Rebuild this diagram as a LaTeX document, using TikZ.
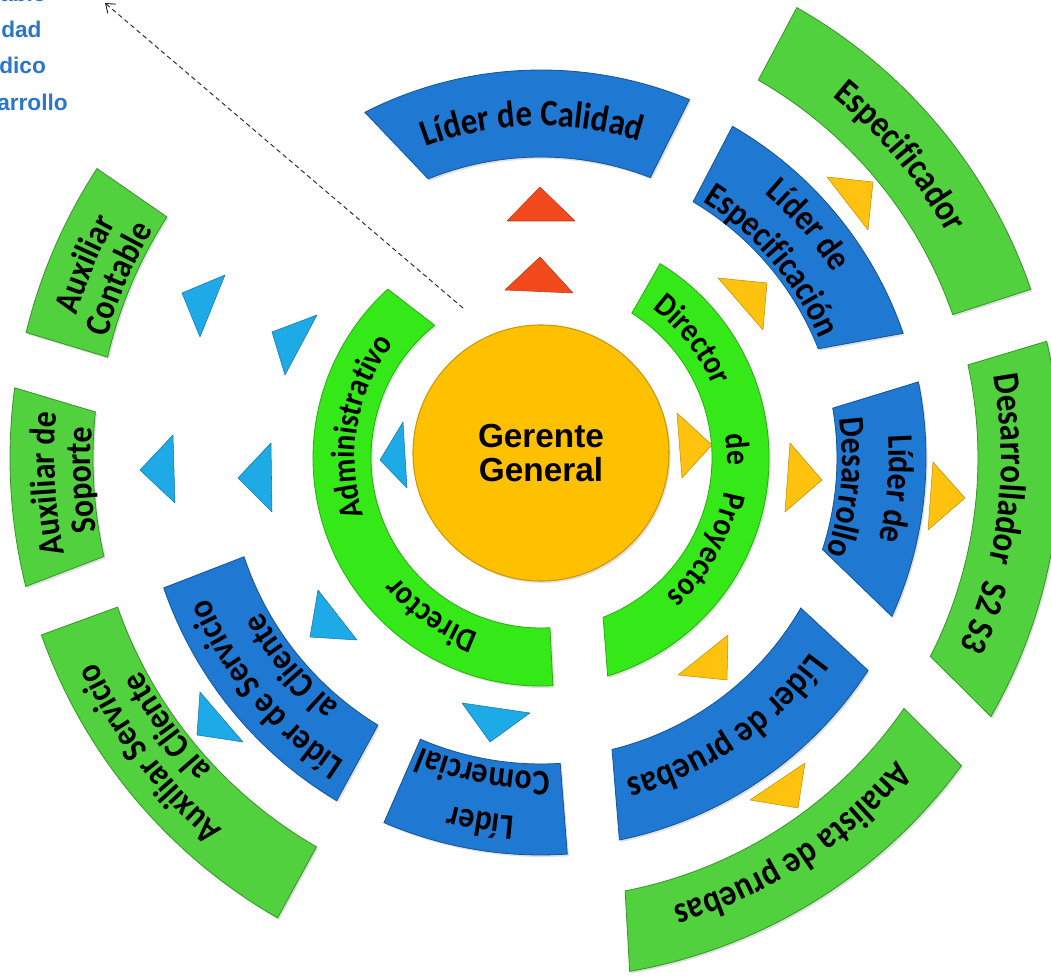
\documentclass[tikz,border=0pt]{standalone}
\usepackage{fontspec}
\setmainfont{Carlito}
\newfontfamily\lblfont{Carlito}[FakeStretch=0.88]
\newfontfamily\gerfont{Liberation Sans}
\usetikzlibrary{decorations.text,shadows,arrows.meta}
\definecolor{gold}{HTML}{FFC000}
\definecolor{limeg}{HTML}{35E817}
\definecolor{grn}{HTML}{52D13E}
\definecolor{blu}{HTML}{1F78D1}
\definecolor{cyanb}{HTML}{1EAAE6}
\definecolor{redt}{HTML}{F24A1C}
\definecolor{ylw}{HTML}{FFC20E}
\definecolor{txtblue}{HTML}{2B77C6}
% #1 outer start, #2 outer end, #3 inner start, #4 inner end, #5 r in, #6 r out, #7 style
\newcommand\seg[7]{\path[#7] (#1:#6) arc[start angle=#1, end angle=#2, radius=#6] -- (#4:#5) arc[start angle=#4, end angle=#3, radius=#5] -- cycle;}
% #1 centre angle, #2 baseline radius, #3 font size, #4 text
\newcommand\arclbl[4]{\path[decorate,decoration={text along path, text align=center, text={|\lblfont\bfseries\fontsize{#3}{#3}\selectfont|#4}}] ({#1+70}:#2) arc[start angle={#1+70}, end angle={#1-70}, radius=#2];}
\begin{document}
\begin{tikzpicture}[x=0.75pt,y=0.75pt,
  segbase/.style={line width=0.6pt, drop shadow={opacity=0.25, shadow xshift=1.2pt, shadow yshift=-1.5pt}},
  bluseg/.style={segbase, fill=blu, draw=blu!70!black},
  grnseg/.style={segbase, fill=grn, draw=grn!70!black},
  limeseg/.style={segbase, fill=limeg, draw=limeg!75!black},
  tri/.style={line width=0.4pt, line join=round},
  cyantri/.style={tri, fill=cyanb, draw=cyanb!70!black},
  redtri/.style={tri, fill=redt, draw=redt!75!black},
  ylwtri/.style={tri, fill=ylw, draw=ylw!75!black},
  note/.style={anchor=base west, inner sep=0pt, text=txtblue, font=\gerfont\bfseries\fontsize{17}{17}\selectfont}]
\useasboundingbox (-541,-522) rectangle (510,458);
\fill[white] (-541,-522) rectangle (510,458);

% inner director ring
\seg{273}{132.2}{273}{128.7}{170}{228}{limeseg}
\seg{58.5}{-73}{57.9}{-68.7}{171}{228}{limeseg}

% middle blue ring
\seg{117}{67.5}{112}{68.7}{301}{388}{bluseg}
\seg{60}{19}{59.3}{21.5}{298}{383}{bluseg}
\seg{11.4}{-24.3}{9.7}{-18}{296}{385}{bluseg}
\seg{-33}{-78.4}{-30}{-76.3}{300}{390}{bluseg}
\seg{273.8}{246.7}{273.6}{246.8}{306}{397}{bluseg}
\seg{239.2}{199}{238.6}{198.4}{313}{399}{bluseg}

% outer green ring
\seg{60.4}{19}{60.1}{19.2}{436}{518}{grnseg}
\seg{13}{-29.9}{12.3}{-27}{437}{519}{grnseg}
\seg{-36.2}{-80.2}{-34.6}{-79}{441}{521}{grnseg}
\seg{240.2}{199.5}{240}{199.4}{449}{530}{grnseg}
\seg{194}{172.4}{192.7}{174.1}{448}{531}{grnseg}
\seg{166.3}{146.9}{166.9}{147.2}{445}{530}{grnseg}

% labels, director ring
\arclbl{235}{186}{25}{Director}
\arclbl{170}{186}{25}{Administrativo}
\arclbl{38}{186}{25}{Director}
\arclbl{2.6}{186}{25}{de}
\arclbl{-29}{186}{25}{Proyectos}

% labels, blue ring
\arclbl{91.5}{332}{28}{Líder de Calidad}
\arclbl{41}{346}{27}{Líder de}
\arclbl{40.5}{303}{27}{Especificación}
\arclbl{-5}{348}{27}{Líder de}
\arclbl{-5.5}{301}{27}{Desarrollo}
\arclbl{-55.5}{332}{28}{Líder de pruebas}
\arclbl{260.5}{359}{27}{Líder}
\arclbl{259.5}{313}{27}{Comercial}
\arclbl{220}{361}{27}{Líder de Servicio}
\arclbl{219.8}{319}{27}{al Cliente}

% labels, green ring
\arclbl{40}{464}{28}{Especificador}
\arclbl{-7}{460}{28}{Desarrollador{\hspace{0.5em}}S2 S3}
\arclbl{-57}{467}{28}{Analista de pruebas}
\arclbl{217}{489}{27}{Auxiliar Servicio}
\arclbl{215.7}{453}{27}{al Cliente}
\arclbl{183}{486}{27}{Auxiliar de}
\arclbl{182.7}{450}{27}{Soporte}
\arclbl{157}{486}{27}{Auxiliar}
\arclbl{157}{450}{27}{Contable}

% triangles, blue (left)
\path[cyantri] (-138,36) -- (-161,-2) -- (-134,-30) -- cycle;
\path[cyantri] (-270,15) -- (-303,-20) -- (-269,-54) -- cycle;
\path[cyantri] (-368,23) -- (-401,-12) -- (-366,-45) -- cycle;
\path[cyantri] (-269,126) -- (-224,143) -- (-256,83) -- cycle;
\path[cyantri] (-359,165) -- (-316,183) -- (-341,121) -- cycle;
\path[cyantri] (-223,-132) -- (-184,-182) -- (-231,-179) -- cycle;
\path[cyantri] (-341,-234) -- (-344,-277) -- (-298,-284) -- cycle;
\path[cyantri] (-79,-245) -- (-11,-255) -- (-51,-284) -- cycle;
% triangles, red (top)
\path[redtri] (-1,271) -- (-34,237) -- (34,237) -- cycle;
\path[redtri] (-1,201) -- (-36,168) -- (32,165) -- cycle;
% triangles, yellow (right)
\path[ylwtri] (136,45) -- (171,13) -- (141,-20) -- cycle;
\path[ylwtri] (249,15) -- (281,-22) -- (244,-54) -- cycle;
\path[ylwtri] (392,-4) -- (424,-40) -- (387,-72) -- cycle;
\path[ylwtri] (177,180) -- (226,175) -- (222,128) -- cycle;
\path[ylwtri] (286,281) -- (332,276) -- (327,228) -- cycle;
\path[ylwtri] (187,-177) -- (186,-222) -- (137,-217) -- cycle;
\path[ylwtri] (264,-305) -- (257,-350) -- (209,-342) -- cycle;

% centre
\node[circle, fill=gold, draw=gold!80!black, line width=0.8pt, minimum size=192pt, inner sep=0pt, align=center,
  font=\gerfont\bfseries\fontsize{25}{26}\selectfont,
  drop shadow={opacity=0.25, shadow xshift=1.2pt, shadow yshift=-1.5pt}] (gerente) at (0,5) {Gerente\\General};

% dashed arrow
\coordinate (arrS) at (-78,150);
\coordinate (arrE) at (-436,455);
\draw[black!85, line width=0.7pt, dash pattern=on 3.5pt off 2.5pt, -{Straight Barb[length=6pt,width=9pt]}] (arrS) -- (arrE);

% clipped text, top left
\node[note] (t1) at (-541,456) {able};
\node[note] (t2) at (-540,420) {dad};
\node[note] (t3) at (-542,384) {dico};
\node[note] (t4) at (-544,347) {arrollo};
\end{tikzpicture}
\end{document}
